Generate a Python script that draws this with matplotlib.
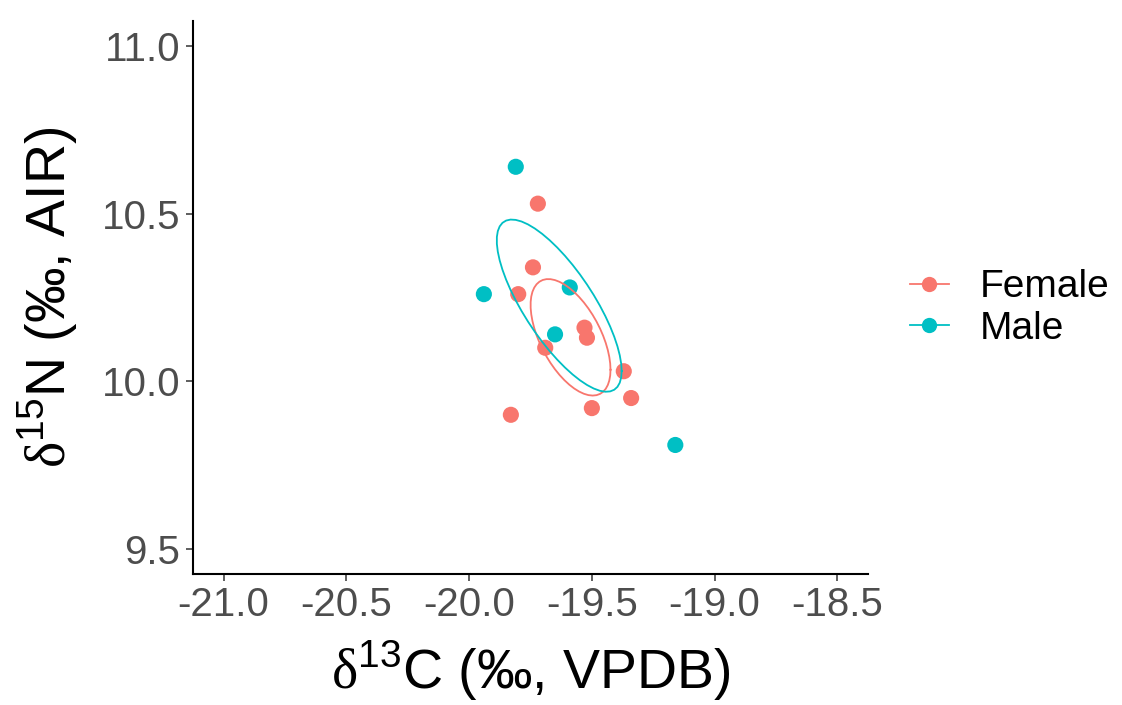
"""
plot.py
Stable isotope biplot (d13C vs d15N) by sex with standard ellipses.
"""

import numpy as np
import matplotlib
matplotlib.use("Agg")
import matplotlib.pyplot as plt
from matplotlib.lines import Line2D

# data
female_d13c = [-19.72, -19.74, -19.80, -19.53, -19.52, -19.69, -19.37, -19.34, -19.50, -19.83]
female_d15n = [10.53, 10.34, 10.26, 10.16, 10.13, 10.10, 10.03, 9.95, 9.92, 9.90]
male_d13c = [-19.81, -19.94, -19.59, -19.65, -19.16]
male_d15n = [10.64, 10.26, 10.28, 10.14, 9.81]

groups = ["Female", "Male"]
colors = {"Female": "#F8766D", "Male": "#00BFC4"}
x_ticks = [-21.0, -20.5, -20.0, -19.5, -19.0, -18.5]
y_ticks = [9.5, 10.0, 10.5, 11.0]
ellipse_level = 0.4


"""
Robust multivariate t estimate of location and scatter (like MASS::cov.trob).
"""
def cov_trob(x, nu=5, maxit=25, tol=0.01):
    n, p = x.shape
    wt = np.ones(n)
    loc = x.mean(axis=0)
    w = np.sqrt(wt)
    for _ in range(maxit):
        w0 = w
        X = x - loc
        _, d, vt = np.linalg.svd(np.sqrt(w / w.sum())[:, None] * X, full_matrices=False)
        wX = X @ vt.T @ np.diag(1 / d)
        Q = (wX ** 2).sum(axis=1)
        w = (wt * (nu + p)) / (nu + Q)
        loc = (w[:, None] * x).sum(axis=0) / w.sum()
        if np.all(np.abs(w - w0) < tol):
            break
    sw = np.sqrt(w)[:, None] * X
    cov = sw.T @ sw / wt.sum()
    return loc, cov


"""
Ellipse outline the way ggplot2's stat_ellipse builds it (type = "t").
"""
def ellipse_path(xs, ys, level, segments=51):
    data = np.column_stack([xs, ys])
    center, shape = cov_trob(data)
    dfd = len(xs) - 1
    # quantile of F(2, dfd) has a closed form
    qf = dfd / 2 * ((1 - level) ** (-2 / dfd) - 1)
    radius = np.sqrt(2 * qf)
    angles = np.linspace(0, 2 * np.pi, segments + 1)
    unit = np.column_stack([np.cos(angles), np.sin(angles)])
    chol = np.linalg.cholesky(shape).T
    pts = center + radius * (unit @ chol)
    return pts[:, 0], pts[:, 1]


plt.rcParams["font.family"] = ["Liberation Sans", "DejaVu Sans"]
plt.rcParams["mathtext.fontset"] = "custom"
plt.rcParams["mathtext.rm"] = "Liberation Serif"
plt.rcParams["mathtext.sf"] = "Liberation Sans"

fig = plt.figure(figsize=(11.22, 7.05), dpi=100)
ax = fig.add_axes([193 / 1122, 131 / 705, 675 / 1122, 553 / 705])

series = {
    "Female": (female_d13c, female_d15n),
    "Male": (male_d13c, male_d15n),
}
for g in groups:
    xs, ys = series[g]
    ax.scatter(xs, ys, s=135, color=colors[g], edgecolors="none", zorder=2)
for g in groups:
    xs, ys = series[g]
    ex, ey = ellipse_path(np.array(xs), np.array(ys), ellipse_level)
    ax.plot(ex, ey, color=colors[g], linewidth=1.3, zorder=3)

ax.set_xlim(-21.125, -18.375)
ax.set_ylim(9.425, 11.075)
ax.set_xticks(x_ticks)
ax.set_xticklabels([f"{t:.1f}" for t in x_ticks])
ax.set_yticks(y_ticks)
ax.set_yticklabels([f"{t:.1f}" for t in y_ticks])

for side in ["top", "right"]:
    ax.spines[side].set_visible(False)
for side in ["left", "bottom"]:
    ax.spines[side].set_linewidth(1.5)
    ax.spines[side].set_color("black")
ax.tick_params(length=5, width=1.1, color="#333333", labelsize=29,
               labelcolor="#4D4D4D", pad=4)

ax.set_xlabel(r"$\mathrm{\delta}^{\mathsf{13}}$C (‰, VPDB)", fontsize=40, labelpad=10)
ax.set_ylabel(r"$\mathrm{\delta}^{\mathsf{15}}$N (‰, AIR)", fontsize=40, labelpad=16)

handles = [
    Line2D([], [], color=colors[g], marker="o", markersize=11, linewidth=1.3,
           markeredgecolor="none")
    for g in groups
]
fig.legend(handles, groups, loc="center left", bbox_to_anchor=(910 / 1122, 0.563),
           frameon=False, fontsize=28, handlelength=1.0, handletextpad=0.8,
           labelspacing=0.15, borderpad=0, borderaxespad=0)

fig.savefig("out.png", dpi=100)
